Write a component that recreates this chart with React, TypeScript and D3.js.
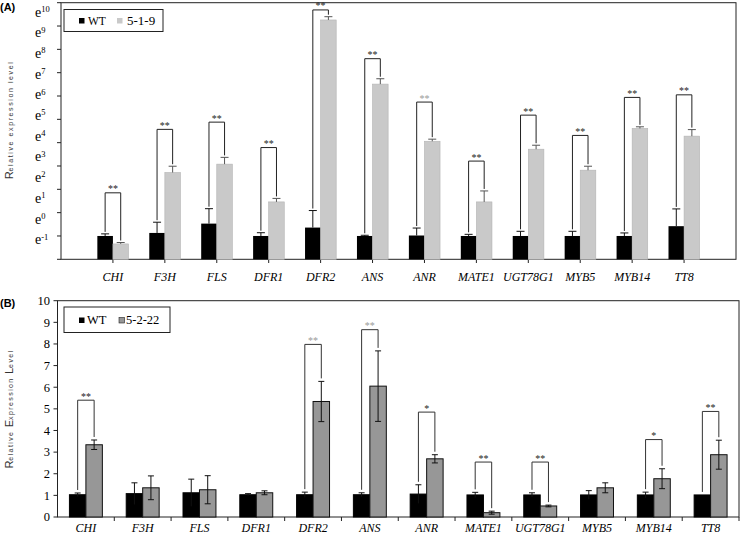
import * as d3 from 'd3'

const genes = ['CHI', 'F3H', 'FLS', 'DFR1', 'DFR2', 'ANS', 'ANR', 'MATE1', 'UGT78G1', 'MYB5', 'MYB14', 'TT8']

// (A) values are ln(relative expression), WT vs 5-1-9
const wtA = [0, 0.13, 0.53, 0, 0.36, 0, 0.02, 0, 0, 0, 0, 0.42]
const wtAErr = [0.09, 0.46, 0.64, 0.14, 0.73, 0.03, 0.32, 0.07, 0.2, 0.2, 0.13, 0.74]
const lineA = [-0.34, 2.72, 3.08, 1.46, 9.26, 6.51, 4.06, 1.46, 3.72, 2.82, 4.61, 4.28]
const lineAErr = [0.06, 0.27, 0.29, 0.15, 0.14, 0.23, 0.09, 0.47, 0.17, 0.17, 0.07, 0.28]
const bracketA = [1.85, 4.57, 4.88, 3.79, 9.69, 7.6, 5.74, 3.21, 5.18, 4.31, 5.94, 6.05]
const sigA = ['**', '**', '**', '**', '**', '**', '**', '**', '**', '**', '**', '**']
const sigAGray = [false, false, false, false, false, false, true, false, false, false, false, false]
const expLabelsA = [10, 9, 8, 7, 6, 5, 4, 3, 2, 1, 0, -1]

// (B) relative expression, WT vs 5-2-22
const wtB = [1.03, 1.08, 1.12, 1.03, 1.03, 1.03, 1.06, 1.02, 1.02, 1.02, 1.02, 1.02]
const wtBErr = [0.08, 0.5, 0.63, 0.05, 0.12, 0.09, 0.43, 0.12, 0.1, 0.2, 0.13, 0]
const lineB = [3.34, 1.35, 1.26, 1.12, 5.34, 6.05, 2.69, 0.2, 0.51, 1.35, 1.77, 2.88]
const lineBErr = [0.22, 0.55, 0.65, 0.09, 0.93, 1.63, 0.19, 0.07, 0.04, 0.23, 0.46, 0.67]
const bracketB = [5.4, null, null, null, 7.98, 8.66, 4.85, 2.54, 2.54, null, 3.58, 4.88]
const sigB = ['**', '', '', '', '**', '**', '*', '**', '**', '', '*', '**']
const sigBGray = [false, false, false, false, true, true, false, false, false, false, false, false]
const ticksB = [0, 1, 2, 3, 4, 5, 6, 7, 8, 9, 10]

const serif = "'Liberation Serif', 'Times New Roman', serif"
const sans = "'Liberation Sans', Arial, sans-serif"

export default function App() {
  // panel A
  const xA = d3.scalePoint<string>().domain(genes).range([61, 736]).padding(1)
  const yA = d3.scaleLinear().domain([-1, 10]).range([259.3, 2.7])
  const labelYA = d3.scaleLinear().domain([10, -1]).range([12.5, 240])
  const bwA = xA.step() * 0.3

  // panel B
  const xB = d3.scaleBand<string>().domain(genes).range([57.5, 739])
  const yB = d3.scaleLinear().domain([0, 10]).range([517, 300.7])
  const bwB = xB.bandwidth() * 0.29

  return (
    <div>
      <style>{'body{margin:0}'}</style>
      <svg width={740} height={535} style={{ display: 'block', background: '#fff' }} fontFamily={serif}>
        {/* ---------- (A) ---------- */}
        <text x={0} y={11} fontFamily={sans} fontWeight="bold" fontSize={11}>(A)</text>
        <rect x={61} y={yA(10)} width={736 - 61} height={yA(-1) - yA(10)} fill="none" stroke="#222" strokeWidth={1} />
        {d3.range(-1, 11).map(t => (
          <line key={t} x1={57} x2={61} y1={yA(t)} y2={yA(t)} stroke="#222" />
        ))}
        {expLabelsA.map(k => (
          <text key={k} x={35} y={labelYA(k)} dy="0.3em" fontSize={14}>
            e<tspan dy="-0.55em" fontSize={8.5}>{k}</tspan>
          </text>
        ))}
        <text transform="translate(13,120) rotate(-90)" textAnchor="middle" fontFamily={sans} fill="#333">
          <tspan fontSize={11}>R</tspan>
          <tspan fontSize={7} letterSpacing={1.6}>elative expression level</tspan>
        </text>
        {genes.map((g, i) => {
          const cx = xA(g) as number
          const c1 = cx - bwA / 2
          const c2 = cx + bwA / 2
          const wtTop = yA(wtA[i] + wtAErr[i])
          const lnTop = yA(lineA[i] + lineAErr[i])
          const by = yA(bracketA[i])
          return (
            <g key={g}>
              <line x1={cx} x2={cx} y1={259.3} y2={263} stroke="#222" />
              <rect x={cx - bwA} y={yA(wtA[i])} width={bwA} height={259.3 - yA(wtA[i])} fill="#000" />
              <rect x={cx} y={yA(lineA[i])} width={bwA} height={259.3 - yA(lineA[i])} fill="#c9c9c9" stroke="#b3b3b3" strokeWidth={0.6} />
              <line x1={c1} x2={c1} y1={yA(wtA[i])} y2={wtTop} stroke="#111" />
              <line x1={c1 - 4} x2={c1 + 4} y1={wtTop} y2={wtTop} stroke="#111" />
              <line x1={c2} x2={c2} y1={yA(lineA[i])} y2={lnTop} stroke="#555" />
              <line x1={c2 - 4} x2={c2 + 4} y1={lnTop} y2={lnTop} stroke="#555" />
              <path d={`M${c1},${wtTop - 2}V${by}H${c2}V${lnTop - 2}`} fill="none" stroke="#222" />
              <text x={cx} y={by - 0.5} textAnchor="middle" fontSize={10} fill={sigAGray[i] ? '#999' : '#222'}>{sigA[i]}</text>
              <text x={cx} y={281} textAnchor="middle" fontSize={12} fontStyle="italic">{g}</text>
            </g>
          )
        })}
        <rect x={64} y={9.5} width={99} height={22} fill="#fff" stroke="#222" />
        <rect x={79} y={18} width={5.5} height={5.5} fill="#000" />
        <text x={88} y={24.5} fontSize={11.5}>WT</text>
        <rect x={117} y={18} width={5.5} height={5.5} fill="#c9c9c9" />
        <text x={127} y={25} fontSize={13}>5-1-9</text>

        {/* ---------- (B) ---------- */}
        <text x={0} y={307} fontFamily={sans} fontWeight="bold" fontSize={11}>(B)</text>
        <rect x={57.5} y={yB(10)} width={739 - 57.5} height={yB(0) - yB(10)} fill="none" stroke="#222" strokeWidth={1} />
        {ticksB.map(t => (
          <g key={t}>
            <line x1={53.5} x2={57.5} y1={yB(t)} y2={yB(t)} stroke="#222" />
            <text x={50} y={yB(t)} dy="0.35em" textAnchor="end" fontSize={12.5}>{t}</text>
          </g>
        ))}
        {genes.map(g => (
          <line key={g} x1={(xB(g) as number) + xB.bandwidth()} x2={(xB(g) as number) + xB.bandwidth()} y1={517} y2={521} stroke="#222" />
        ))}
        <text transform="translate(13,409) rotate(-90)" textAnchor="middle" fontFamily={sans} fill="#333">
          <tspan fontSize={11}>R</tspan>
          <tspan fontSize={7} letterSpacing={1.4}>elative </tspan>
          <tspan fontSize={11}>E</tspan>
          <tspan fontSize={7} letterSpacing={1.4}>xpression </tspan>
          <tspan fontSize={11}>L</tspan>
          <tspan fontSize={7} letterSpacing={1.4}>evel</tspan>
        </text>
        {genes.map((g, i) => {
          const cx = (xB(g) as number) + xB.bandwidth() / 2
          const c1 = cx - bwB / 2
          const c2 = cx + bwB / 2
          const wtTop = yB(wtB[i] + wtBErr[i])
          const lnTop = yB(lineB[i] + lineBErr[i])
          const b = bracketB[i]
          return (
            <g key={g}>
              <rect x={cx - bwB} y={yB(wtB[i])} width={bwB} height={517 - yB(wtB[i])} fill="#000" stroke="#000" />
              <rect x={cx} y={yB(lineB[i])} width={bwB} height={517 - yB(lineB[i])} fill="#979797" stroke="#111" />
              {wtBErr[i] > 0 && (
                <g stroke="#111">
                  <line x1={c1} x2={c1} y1={yB(wtB[i] - wtBErr[i])} y2={wtTop} />
                  <line x1={c1 - 3} x2={c1 + 3} y1={wtTop} y2={wtTop} />
                </g>
              )}
              <g stroke="#111">
                <line x1={c2} x2={c2} y1={yB(lineB[i] - lineBErr[i])} y2={lnTop} />
                <line x1={c2 - 3} x2={c2 + 3} y1={lnTop} y2={lnTop} />
                <line x1={c2 - 3} x2={c2 + 3} y1={yB(lineB[i] - lineBErr[i])} y2={yB(lineB[i] - lineBErr[i])} />
              </g>
              {b !== null && (
                <g>
                  <path d={`M${c1},${wtTop - 3}V${yB(b)}H${c2}V${lnTop - 3}`} fill="none" stroke="#333" />
                  <text x={cx} y={yB(b) - 0.5} textAnchor="middle" fontSize={10} fill={sigBGray[i] ? '#999' : '#222'}>{sigB[i]}</text>
                </g>
              )}
              <text x={cx} y={532} textAnchor="middle" fontSize={12} fontStyle="italic">{g}</text>
            </g>
          )
        })}
        <rect x={64} y={307} width={106} height={25.5} fill="#fff" stroke="#222" />
        <rect x={79} y={317.5} width={5.5} height={5.5} fill="#000" />
        <text x={87} y={324} fontSize={12.5}>WT</text>
        <rect x={119} y={317.5} width={5.5} height={5.5} fill="#979797" stroke="#222" strokeWidth={0.6} />
        <text x={126} y={324} fontSize={12.5}>5-2-22</text>
      </svg>
    </div>
  )
}
